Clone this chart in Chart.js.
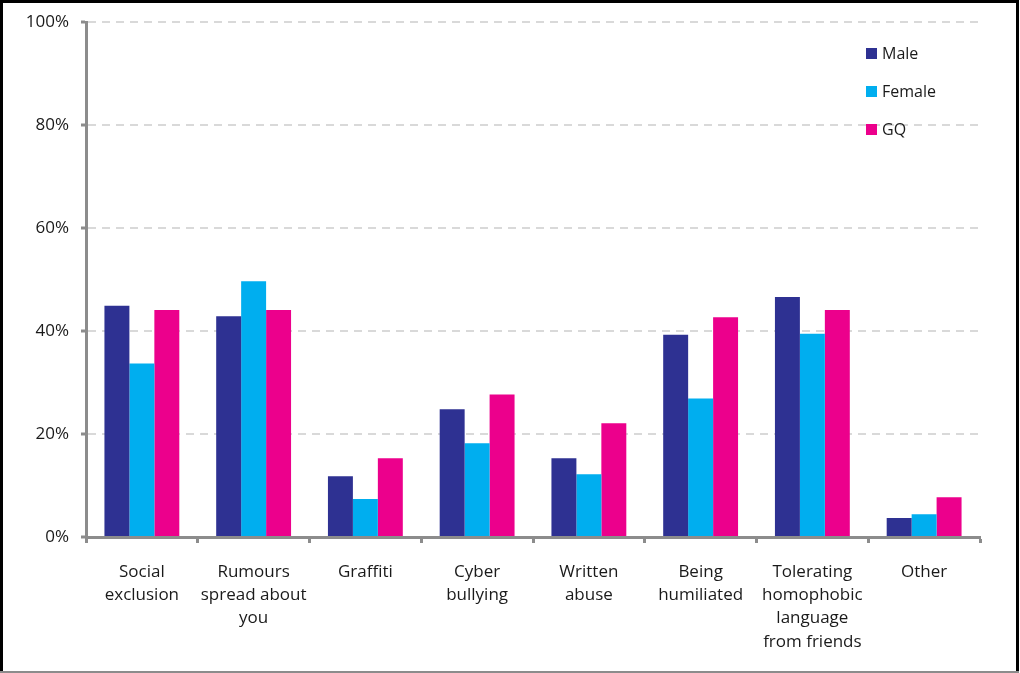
<!DOCTYPE html>
<html>
<head>
<meta charset="utf-8">
<script src="https://cdn.jsdelivr.net/npm/chart.js@4.4.1/dist/chart.umd.min.js"></script>
<style>
  html, body { margin: 0; padding: 0; background: #fff; }
  #wrap { width: 1020px; height: 673px; position: relative; }
</style>
</head>
<body>
<div id="wrap"><canvas id="myChart" width="1020" height="673"></canvas></div>
<script>
var categories = [
    ['Social', 'exclusion'],
    ['Rumours', 'spread about', 'you'],
    ['Graffiti'],
    ['Cyber', 'bullying'],
    ['Written', 'abuse'],
    ['Being', 'humiliated'],
    ['Tolerating', 'homophobic', 'language', 'from friends'],
    ['Other']
];
var maleValues = [44.9, 42.9, 11.8, 24.8, 15.3, 39.3, 46.6, 3.7];
var femaleValues = [33.7, 49.7, 7.4, 18.2, 12.2, 26.9, 39.5, 4.4];
var gqValues = [44.1, 44.1, 15.3, 27.7, 22.1, 42.7, 44.1, 7.7];
var yTicks = [0, 20, 40, 60, 80, 100];

var FONT = "'Open Sans', sans-serif";

// legend and frame drawn by hand, the built-in legend can't sit inside the plot
var framePlugin = {
    id: 'frame',
    afterDraw: function (chart) {
        var c = chart.ctx;
        c.save();
        c.lineWidth = 3;
        c.strokeStyle = '#000';
        c.beginPath();
        c.moveTo(1.5, 673);
        c.lineTo(1.5, 1.5);
        c.lineTo(1017.5, 1.5);
        c.lineTo(1017.5, 673);
        c.stroke();
        c.strokeStyle = '#8c8c8c';
        c.lineWidth = 2;
        c.beginPath();
        c.moveTo(0, 672);
        c.lineTo(1019, 672);
        c.stroke();

        var x = 866, y = 53;
        c.font = '16px ' + FONT;
        c.textBaseline = 'middle';
        chart.data.datasets.forEach(function (ds, i) {
            c.fillStyle = ds.backgroundColor;
            c.fillRect(x, y + i * 38 - 5, 11, 11);
            c.fillStyle = '#1a1a1a';
            c.fillText(ds.label, x + 16, y + i * 38 + 1);
        });
        c.restore();
    }
};

var ctx = document.getElementById('myChart').getContext('2d');
var myChart = new Chart(ctx, {
    type: 'bar',
    data: {
        labels: categories,
        datasets: [
            { label: 'Male', data: maleValues, backgroundColor: '#2e3192' },
            { label: 'Female', data: femaleValues, backgroundColor: '#00aeef' },
            { label: 'GQ', data: gqValues, backgroundColor: '#ec008c' }
        ]
    },
    options: {
        responsive: false,
        animation: false,
        devicePixelRatio: 1,
        layout: { padding: { top: 20, right: 40, bottom: 0, left: 0 } },
        datasets: {
            bar: { categoryPercentage: 0.67, barPercentage: 1.0 }
        },
        plugins: {
            legend: { display: false },
            tooltip: { enabled: false }
        },
        scales: {
            x: {
                grid: {
                    offset: true,
                    drawOnChartArea: false,
                    drawTicks: true,
                    tickLength: 6,
                    tickWidth: 3,
                    color: '#8c8c8c'
                },
                border: { display: true, color: '#8c8c8c', width: 3 },
                ticks: {
                    color: '#1a1a1a',
                    font: { family: FONT, size: 17, lineHeight: 1.38 },
                    padding: 17,
                    maxRotation: 0,
                    autoSkip: false
                },
                afterFit: function (scale) { scale.height = 136; }
            },
            y: {
                min: 0,
                max: 100,
                afterBuildTicks: function (scale) {
                    scale.ticks = yTicks.map(function (v) { return { value: v }; });
                },
                grid: {
                    color: '#d9d9d9',
                    lineWidth: 2,
                    drawTicks: true,
                    tickLength: 5,
                    tickColor: '#8c8c8c',
                    tickWidth: 3
                },
                border: { display: true, color: '#8c8c8c', width: 3, dash: [8, 6] },
                ticks: {
                    color: '#1a1a1a',
                    font: { family: FONT, size: 17 },
                    padding: 12,
                    callback: function (v) { return v + '%'; }
                },
                afterFit: function (scale) { scale.width = 86; }
            }
        }
    },
    plugins: [framePlugin]
});
</script>
</body>
</html>
